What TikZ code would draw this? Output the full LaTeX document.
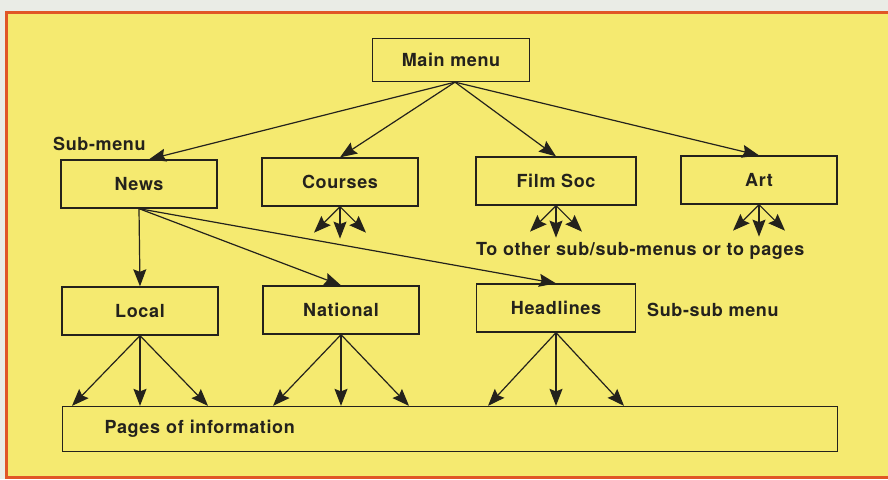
\documentclass[tikz,border=0pt]{standalone}
\usepackage{fontspec}
\setmainfont{TeX Gyre Heros}[LetterSpace=3.5]
\usetikzlibrary{arrows.meta}
\definecolor{menuyellow}{RGB}{245,234,112}
\definecolor{frameorange}{RGB}{224,86,38}
\definecolor{inkgrey}{RGB}{36,34,28}
\definecolor{paper}{RGB}{234,236,230}

\tikzset{
  menubox/.style={draw=inkgrey, line width=1.3pt, minimum width=156pt, minimum height=48pt,
                  inner sep=0pt, text=inkgrey, font=\fontsize{18}{20}\selectfont\bfseries},
  menulabel/.style={inner sep=0pt, text=inkgrey, font=\fontsize{18}{20}\selectfont\bfseries},
  link/.style={draw=inkgrey, line width=1.2pt, -{Stealth[length=17pt,width=13pt,inset=2.5pt]}}
}

\begin{document}
\begin{tikzpicture}[x=1pt, y=-1pt]
  \useasboundingbox (0,0) rectangle (888,479);
  \fill[paper] (0,0) rectangle (888,479);
  \draw[frameorange, line width=3pt, fill=menuyellow] (6,12) rectangle (896,477);

  % menus
  \node[menubox, minimum width=157pt, minimum height=43pt] (main) at (451,60) {Main menu};
  \node[menubox] (news) at (139,184) {News};
  \node[menubox] (courses) at (340,182) {Courses};
  \node[menubox, minimum width=160pt] (filmsoc) at (556,181) {Film Soc};
  \node[menubox] (art) at (759,180) {Art};
  \node[menubox] (local) at (140,311) {Local};
  \node[menubox] (national) at (341,310) {National};
  \node[menubox, minimum width=159pt] (headlines) at (556,308) {Headlines};
  \node[menubox, minimum width=775pt, minimum height=45pt, text width=691pt,
        inner xsep=42pt, align=left] (pages) at (450,429) {Pages of information};

  % labels
  \node[menulabel, anchor=base west] (submenu) at (53,150) {Sub-menu};
  \node[menulabel, anchor=base west] (subsub) at (647,316) {Sub-sub menu};
  \node[menulabel, anchor=base west] (other) at (476,255) {To other sub/sub-menus or to pages};

  % links
  \draw[link] ([xshift=4pt]main.south) -- ([xshift=10pt]news.north);
  \foreach \sub in {courses,filmsoc,art}
    \draw[link] ([xshift=4pt]main.south) -- (\sub.north);
  \foreach \sub in {local,national,headlines}
    \draw[link] (news.south) -- (\sub.north);

  \foreach \sub in {courses,filmsoc,art} {
    \coordinate (\sub-l) at ([shift={(-26,26)}]\sub.south);
    \coordinate (\sub-m) at ([shift={(0,32)}]\sub.south);
    \coordinate (\sub-r) at ([shift={(26,26)}]\sub.south);
    \foreach \tip in {l,m,r}
      \draw[link] (\sub.south) -- (\sub-\tip);
  }

  \foreach \sub in {local,national,headlines} {
    \path (pages.north -| \sub.south) ++(-68,0) coordinate (\sub-pl);
    \path (pages.north -| \sub.south) coordinate (\sub-pm);
    \path (pages.north -| \sub.south) ++(68,0) coordinate (\sub-pr);
    \foreach \tip in {pl,pm,pr}
      \draw[link] (\sub.south) -- (\sub-\tip);
  }
\end{tikzpicture}
\end{document}
